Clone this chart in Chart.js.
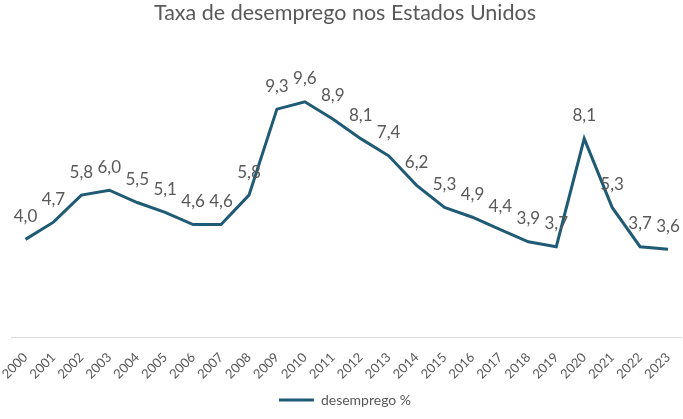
<!DOCTYPE html>
<html>
<head>
<meta charset="utf-8">
<script src="https://cdn.jsdelivr.net/npm/chart.js@4.4.1/dist/chart.umd.min.js"></script>
<style>
  html, body { margin: 0; padding: 0; background: #fff; }
  #wrap { width: 683px; height: 419px; }
</style>
</head>
<body>
<div id="wrap"><canvas id="grafico"></canvas></div>
<script>
// dados
const anos = ["2000","2001","2002","2003","2004","2005","2006","2007","2008","2009","2010","2011",
              "2012","2013","2014","2015","2016","2017","2018","2019","2020","2021","2022","2023"]
const desemprego = [4.0, 4.7, 5.8, 6.0, 5.5, 5.1, 4.6, 4.6, 5.8, 9.3, 9.6, 8.9,
                    8.1, 7.4, 6.2, 5.3, 4.9, 4.4, 3.9, 3.7, 8.1, 5.3, 3.7, 3.6]
const titulo = "Taxa de desemprego nos Estados Unidos"
const serie = "desemprego %"

const corLinha = "#1f5b74"
const corTexto = "#595959"

// rótulos de dados acima de cada ponto (formato pt-BR com vírgula)
const rotulos = {
    id: "rotulos",
    afterDatasetsDraw(chart) {
        const ctx = chart.ctx
        const meta = chart.getDatasetMeta(0)
        ctx.save()
        ctx.font = "17px Lato"
        ctx.fillStyle = corTexto
        ctx.textAlign = "center"
        ctx.textBaseline = "middle"
        meta.data.forEach((pt, i) => {
            const txt = desemprego[i].toFixed(1).replace(".", ",")
            ctx.fillText(txt, pt.x, pt.y - 23)
        })
        ctx.restore()
    }
}

const myChart = new Chart(document.getElementById("grafico").getContext("2d"), {
    type: "line",
    data: {
        labels: anos,
        datasets: [{
            label: serie,
            data: desemprego,
            borderColor: corLinha,
            backgroundColor: corLinha,
            borderWidth: 3,
            pointRadius: 0,
            tension: 0,
            fill: false
        }]
    },
    options: {
        responsive: true,
        maintainAspectRatio: false,
        animation: false,
        layout: { padding: { left: 8, right: 1, top: 0, bottom: 2 } },
        plugins: {
            title: {
                display: true,
                text: titulo,
                color: corTexto,
                font: { family: "Lato", size: 21.5, weight: "normal" },
                padding: { top: 0, bottom: 17 }
            },
            legend: {
                position: "bottom",
                labels: {
                    color: corTexto,
                    font: { family: "Lato", size: 14 },
                    usePointStyle: true,
                    pointStyle: "line",
                    pointStyleWidth: 35,
                    padding: 7
                }
            },
            tooltip: { enabled: false }
        },
        scales: {
            x: {
                offset: true,
                grid: { display: false },
                border: { display: true, color: "#d9d9d9", width: 1 },
                ticks: {
                    color: corTexto,
                    font: { family: "Lato", size: 13 },
                    minRotation: 45,
                    maxRotation: 45,
                    autoSkip: false,
                    padding: 4
                }
            },
            y: {
                display: false,
                min: 0,
                max: 12
            }
        }
    },
    plugins: [rotulos]
})
</script>
</body>
</html>
